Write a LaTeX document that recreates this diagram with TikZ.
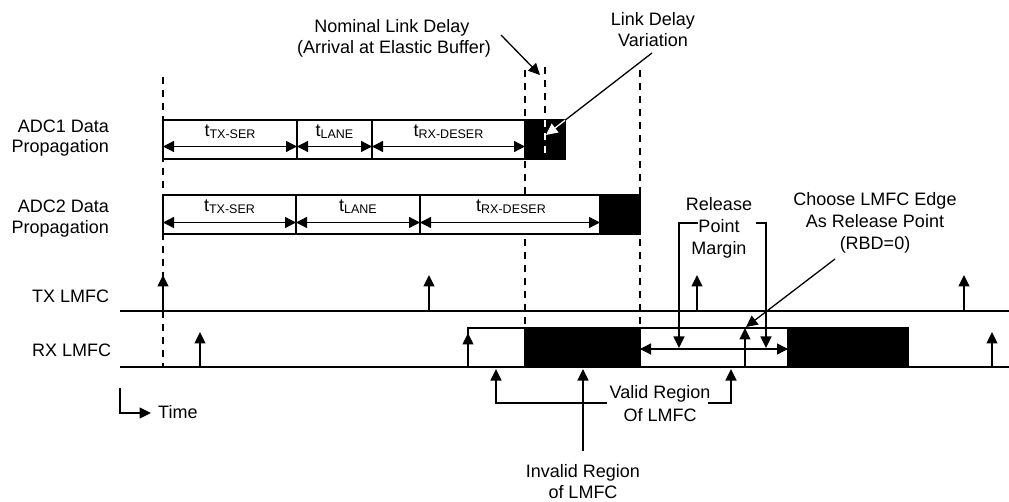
\documentclass[tikz,border=0pt]{standalone}
\usepackage{fontspec}
\setmainfont{Liberation Sans}
\usetikzlibrary{arrows.meta}
\newcommand\fsz{\fontsize{18}{21}\selectfont}
\newcommand\subt[1]{t\raisebox{-2pt}{\fontsize{12.5}{12.5}\selectfont #1}}
\begin{document}
\begin{tikzpicture}[x=1pt,y=-1pt,
  txt/.style={font=\fsz, inner sep=0pt, anchor=base},
  txtr/.style={font=\fsz, inner sep=0pt, anchor=base east},
  txtl/.style={font=\fsz, inner sep=0pt, anchor=base west},
  thinln/.style={line width=1.3pt},
  boxln/.style={line width=2.6pt},
  dashln/.style={line width=1.3pt, dash pattern=on 7pt off 6pt},
  arr/.style={thinln, -{Triangle[length=11.5pt,width=11pt]}},
  darr/.style={thinln, {Triangle[length=11pt,width=11pt]}-{Triangle[length=11pt,width=11pt]}},
]
\useasboundingbox (0,0) rectangle (1009,502);

% ---------- dashed guide lines ----------
\coordinate (g0t) at (163,77);  \coordinate (g0b) at (163,367);
\coordinate (g1t) at (525,70);  \coordinate (g1b) at (525,328);
\coordinate (g2t) at (545,67);  \coordinate (g2b) at (545,159);
\coordinate (g3t) at (640,70);  \coordinate (g3b) at (640,328);
\draw[dashln] (g0t) -- (g0b);
\draw[dashln] (g1t) -- (g1b);
\draw[dashln] (g2t) -- (g2b);
\draw[dashln] (g3t) -- (g3b);

% ---------- row labels ----------
\node[txtr] (adc1a) at (109,133) {ADC1 Data};
\node[txtr] (adc1b) at (109,153) {Propagation};
\node[txtr] (adc2a) at (109,213) {ADC2 Data};
\node[txtr] (adc2b) at (109,234) {Propagation};
\node[txtl] (txl) at (32,303) {TX LMFC};
\node[txtl] (rxl) at (32,357) {RX LMFC};

% ---------- ADC1 row ----------
\draw[boxln, fill=white] (163,120) rectangle (525,159);
\draw[boxln] (297,120) -- (297,159);
\draw[boxln] (372,120) -- (372,159);
\draw[boxln, fill=black] (525,120) rectangle (565,159);
\draw[dashln, white] (545,120) -- (545,159);
\coordinate (a1x0) at (163,146.5); \coordinate (a1x1) at (297,146.5);
\coordinate (a1x2) at (372,146.5); \coordinate (a1x3) at (525,146.5);
\draw[darr] (a1x0) -- (a1x1);
\draw[darr] (a1x1) -- (a1x2);
\draw[darr] (a1x2) -- (a1x3);
\node[txt] (a1l1) at (230,136.5) {\subt{TX-SER}};
\node[txt] (a1l2) at (334.5,136.5) {\subt{LANE}};
\node[txt] (a1l3) at (448.5,136.5) {\subt{RX-DESER}};

% ---------- ADC2 row ----------
\draw[boxln, fill=white] (163,195) rectangle (600,234);
\draw[boxln] (296,195) -- (296,234);
\draw[boxln] (420,195) -- (420,234);
\draw[boxln, fill=black] (600,195) rectangle (640,234);
\coordinate (a2x0) at (163,222.5); \coordinate (a2x1) at (296,222.5);
\coordinate (a2x2) at (420,222.5); \coordinate (a2x3) at (600,222.5);
\draw[darr] (a2x0) -- (a2x1);
\draw[darr] (a2x1) -- (a2x2);
\draw[darr] (a2x2) -- (a2x3);
\node[txt] (a2l1) at (229.5,211.5) {\subt{TX-SER}};
\node[txt] (a2l2) at (358,211.5) {\subt{LANE}};
\node[txt] (a2l3) at (511,211.5) {\subt{RX-DESER}};

% ---------- top annotations ----------
\node[txt] (nom1) at (392,33) {Nominal Link Delay};
\node[txt] (nom2) at (394,54) {(Arrival at Elastic Buffer)};
\coordinate (nomS) at (501,35); \coordinate (nomE) at (540,75);
\draw[arr] (nomS) -- (nomE);
\node[txt] (ldv1) at (653,26) {Link Delay};
\node[txt] (ldv2) at (653,47) {Variation};
\coordinate (ldvS) at (652,53); \coordinate (ldvE) at (546,135);
\draw[arr] (ldvS) -- (ldvE);
\begin{scope}
  \clip (525,120) rectangle (565,159);
  \draw[arr, white] (ldvS) -- (ldvE);
\end{scope}

% ---------- TX LMFC ----------
\coordinate (txS) at (120,311); \coordinate (txE) at (1009,311);
\draw[thinln] (txS) -- (txE);
\foreach \xx/\nm in {163/t1,429/t2,697/t3,964/t4}{
  \coordinate (\nm b) at (\xx,311); \coordinate (\nm t) at (\xx,275);
  \draw[arr] (\nm b) -- (\nm t);
}

% ---------- RX LMFC ----------
\coordinate (rxS) at (120,367); \coordinate (rxE) at (1009,367);
\draw[thinln] (rxS) -- (rxE);
\draw[boxln, fill=white] (468,328) rectangle (908,367);
\draw[boxln, fill=black] (525,328) rectangle (640,367);
\draw[boxln, fill=black] (788,328) rectangle (908,367);
\foreach \xx/\tp/\nm in {200/332/r1,468/333/r2,745/328/r3,992/332/r4}{
  \coordinate (\nm b) at (\xx,367); \coordinate (\nm t) at (\xx,\tp);
  \draw[arr] (\nm b) -- (\nm t);
}

% ---------- release point margin ----------
\coordinate (rmL) at (640,349); \coordinate (rmR) at (788,349);
\draw[darr] (rmL) -- (rmR);
\node[txt] (rel1) at (719,211) {Release};
\node[txt] (rel2) at (719,233) {Point};
\node[txt] (rel3) at (719,255) {Margin};
\coordinate (rbL0) at (698,223); \coordinate (rbL1) at (679,223); \coordinate (rbL2) at (679,348);
\coordinate (rbR0) at (756,223); \coordinate (rbR1) at (766,223); \coordinate (rbR2) at (766,348);
\draw[arr] (rbL0) -- (rbL1) -- (rbL2);
\draw[arr] (rbR0) -- (rbR1) -- (rbR2);

% ---------- choose LMFC edge ----------
\node[txt] (ch1) at (875,206) {Choose LMFC Edge};
\node[txt] (ch2) at (875,228) {As Release Point};
\node[txt] (ch3) at (875,250) {(RBD=0)};
\coordinate (chS) at (835,259); \coordinate (chE) at (746,327);
\draw[arr] (chS) -- (chE);

% ---------- valid region ----------
\node[txt] (val1) at (660,398) {Valid Region};
\node[txt] (val2) at (660,421) {Of LMFC};
\coordinate (vL0) at (607,403); \coordinate (vL1) at (496,403); \coordinate (vL2) at (496,369);
\coordinate (vR0) at (708,403); \coordinate (vR1) at (731,403); \coordinate (vR2) at (731,369);
\draw[arr] (vL0) -- (vL1) -- (vL2);
\draw[arr] (vR0) -- (vR1) -- (vR2);

% ---------- invalid region ----------
\node[txt] (inv1) at (583,477) {Invalid Region};
\node[txt] (inv2) at (583,498) {of LMFC};
\coordinate (ivB) at (583,451); \coordinate (ivT) at (583,369);
\draw[arr] (ivB) -- (ivT);

% ---------- time ----------
\coordinate (tm0) at (120,388); \coordinate (tm1) at (120,413); \coordinate (tm2) at (151,413);
\draw[arr] (tm0) -- (tm1) -- (tm2);
\node[txtl] (time) at (158,418) {Time};
\end{tikzpicture}
\end{document}
